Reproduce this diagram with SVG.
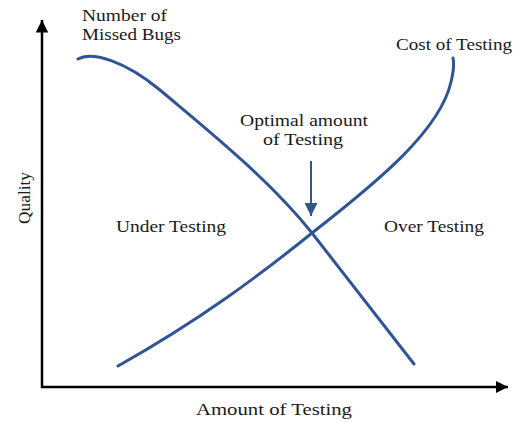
<svg xmlns="http://www.w3.org/2000/svg" width="518" height="423" viewBox="0 0 518 423">
<style>
.t{font-family:"Liberation Serif","DejaVu Serif",serif;font-size:17.5px;fill:#1a1a1a}
.c{fill:none;stroke:#2f5597;stroke-width:3;stroke-linecap:round}
.ax{stroke:#000;stroke-width:2.5;fill:none}
</style>
<defs>
<marker id="ah" viewBox="0 0 10 10" refX="10" refY="5" markerWidth="5" markerHeight="5" orient="auto" markerUnits="strokeWidth"><path d="M0,0L10,5L0,10z" fill="#000"/></marker>
<marker id="bh" viewBox="0 0 10 10" refX="10" refY="5" markerWidth="6.5" markerHeight="6.5" orient="auto" markerUnits="strokeWidth"><path d="M0,0L10,5L0,10z" fill="#2f5597"/></marker>
</defs>
<rect width="518" height="423" fill="#fff"/>
<g id="connectors">
<path class="ax" d="M42,388V20" marker-end="url(#ah)"/>
<path class="ax" d="M41,387H508" marker-end="url(#ah)"/>
<path class="c" d="M78,59 C92,51 125,61 160,90 C205,128 268,178 312,233 L414,364"/>
<path class="c" d="M118,366 C200,320 260,275 312,233 C380,180 440,130 451,82 C454,70 454,63 453,58"/>
<path d="M311,161V216" stroke="#2f5597" stroke-width="2" marker-end="url(#bh)"/>
</g>
<g id="labels">
<text class="t" x="82" y="21" textLength="85" lengthAdjust="spacingAndGlyphs">Number of</text>
<text class="t" x="82" y="40" textLength="99" lengthAdjust="spacingAndGlyphs">Missed Bugs</text>
<text class="t" x="396" y="50" textLength="116" lengthAdjust="spacingAndGlyphs">Cost of Testing</text>
<text class="t" x="240" y="126" textLength="128" lengthAdjust="spacingAndGlyphs">Optimal amount</text>
<text class="t" x="263" y="145" textLength="80" lengthAdjust="spacingAndGlyphs">of Testing</text>
<text class="t" x="116" y="232" textLength="110" lengthAdjust="spacingAndGlyphs">Under Testing</text>
<text class="t" x="384" y="232" textLength="100" lengthAdjust="spacingAndGlyphs">Over Testing</text>
<text class="t" x="196" y="415" textLength="156" lengthAdjust="spacingAndGlyphs">Amount of Testing</text>
<text class="t" transform="translate(30,224) rotate(-90)" textLength="52" lengthAdjust="spacingAndGlyphs">Quality</text>
</g>
</svg>
